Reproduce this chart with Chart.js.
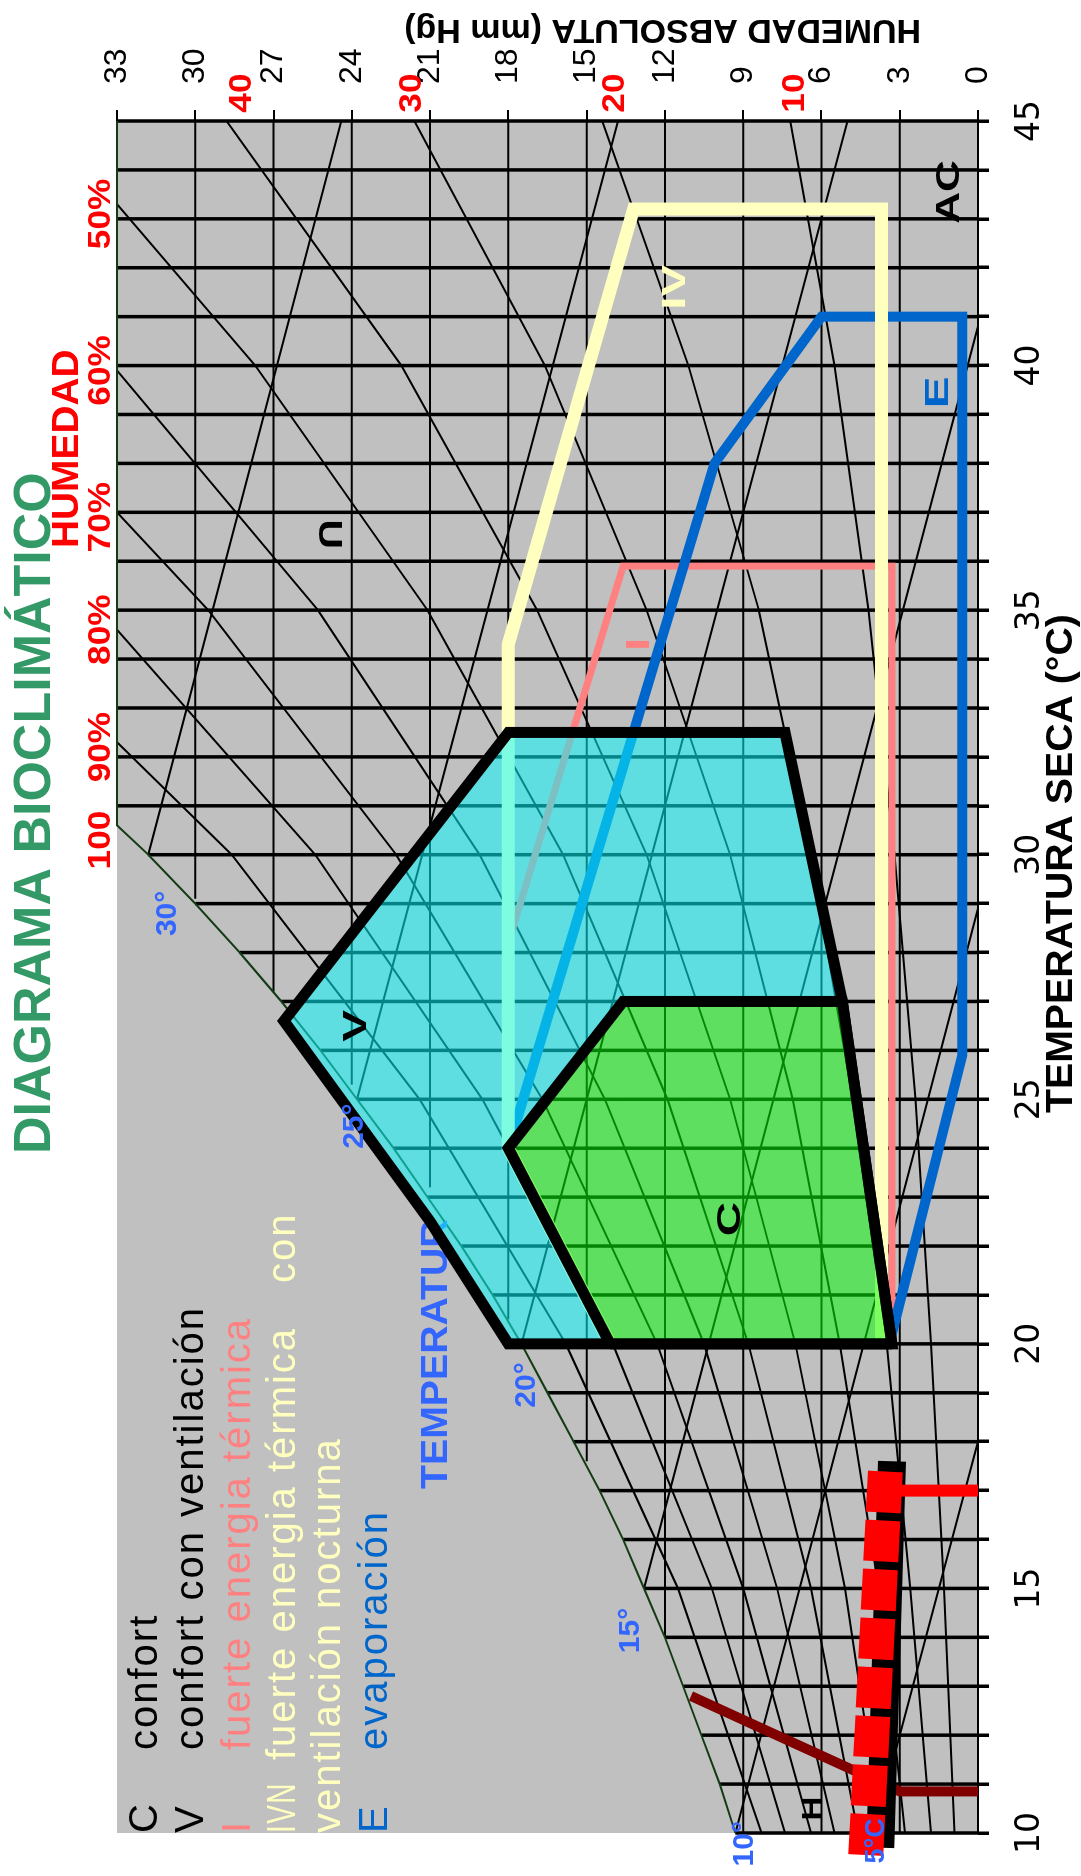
<!DOCTYPE html>
<html lang="es">
<head>
<meta charset="utf-8">
<title>Diagrama bioclimático</title>
<script src="https://cdn.jsdelivr.net/npm/chart.js@4.4.1/dist/chart.umd.min.js"></script>
<style>
  html, body { margin: 0; padding: 0; background: #fff; width: 1081px; height: 1876px; overflow: hidden; }
  /* the chart is laid out in landscape and turned a quarter turn */
  #wrap { position: absolute; left: 0; top: 0; width: 1876px; height: 1081px;
          transform-origin: 0 0; transform: translateY(1876px) rotate(-90deg); }
  canvas { display: block; }
</style>
</head>
<body>
<div id="wrap"><canvas id="chart" width="1876" height="1081"></canvas></div>
<script>
// ---- axes -------------------------------------------------------------
const tempMin = 10, tempMax = 45, humMax = 33;
const tempGrid = [10,11,12,13,14,15,16,17,18,19,20,21,22,23,24,25,26,27,28,29,30,
                  31,32,33,34,35,36,37,38,39,40,41,42,43,44,45];
const tempLabels = [10,15,20,25,30,35,40,45];
const humGrid = [0,3,6,9,12,15,18,21,24,27,30,33];
// lowest temperature each humidity line reaches (where it meets saturation)
const humGridFrom = [10,10,10,10,14.0,17.6,20.5,23.2,25.3,27.2,29.1,30.6];

// ---- saturation curve (100 %) -----------------------------------------
const satT   = [10, 11, 12, 13, 14, 15, 16, 17, 18, 19, 20, 21, 22, 23, 24, 25, 26, 27, 28, 29, 30, 30.6, 45];
const satHum = [9.3,9.9,10.6,11.3,12.0,12.8,13.6,14.5,15.5,16.5,17.5,18.6,19.8,21.1,22.4,23.8,25.2,26.7,28.3,30.0,31.8,33, 33];

// ---- relative humidity lines [temp, hum] ------------------------------
const rh10 = [[10,0.9],[15,1.3],[20,1.8],[25,2.4],[30,3.2],[35,4.2],[40,5.5],[45,7.2]];
const rh20 = [[10,1.8],[15,2.6],[20,3.5],[25,4.8],[30,6.4],[35,8.4],[40,11.1],[45,14.4]];
const rh30 = [[10,2.8],[15,3.8],[20,5.3],[25,7.1],[30,9.5],[35,12.7],[40,16.6],[45,21.6]];
const rh40 = [[10,3.7],[15,5.1],[20,7.0],[25,9.5],[30,12.7],[35,16.9],[40,22.1],[45,28.8]];
const rh50 = [[10,4.6],[15,6.4],[20,8.8],[25,11.9],[30,15.9],[35,21.1],[40,27.7],[43.3,33]];
const rh60 = [[10,5.5],[15,7.7],[20,10.5],[25,14.3],[30,19.1],[35,25.3],[39.9,33]];
const rh70 = [[10,6.4],[15,9.0],[20,12.3],[25,16.7],[30,22.3],[35,29.5],[37.0,33]];
const rh80 = [[10,7.4],[15,10.2],[20,14.0],[25,19.0],[30,25.4],[34.6,33]];
const rh90 = [[10,8.3],[15,11.5],[20,15.8],[25,21.4],[30,28.6],[32.3,33]];
const rhLines = [rh10, rh20, rh30, rh40, rh50, rh60, rh70, rh80, rh90];

// ---- wet-bulb temperature lines ---------------------------------------
const wb5  = [[10,4.0],[18.0,0]];
const wb10 = [[10,9.3],[28.9,0]];
const wb15 = [[15,12.8],[40.8,0]];
const wb20 = [[20,17.5],[45,5.0]];
const wb25 = [[25,23.8],[45,13.8]];
const wb30 = [[30,31.8],[45,24.4]];
const wbLines = [wb5, wb10, wb15, wb20, wb25, wb30];

// ---- zones -------------------------------------------------------------
const zoneC   = [[20,14.1],[24,18],[27,13.6],[27,5.2],[20,3.3],[20,14.1]];
const zoneV   = [[20,3.3],[20,18],[22.5,21.0],[26.6,26.6],[32.5,18],[32.5,7.4],[27,5.2],[20,3.3]];
const zoneI   = [[20,3.3],[35.9,3.3],[35.9,13.6],[28.2,18],[24,18]];
const zoneIVN = [[20,3.7],[43.2,3.7],[43.2,13.2],[34.3,18],[24,18],[20,14.1]];
const zoneE   = [[24,18],[38.0,10.1],[41,6.0],[41,0.6],[25.9,0.6],[20,3.4]];

// ---- site lines ---------------------------------------------------------
const heatLine      = [[10.85,0],[10.85,3.0],[12.8,11.0]];
const climateLine   = [[9.55,4.3],[17.4,3.55]];
const climateShadow = [[9.7,3.75],[17.6,3.3]];
const climateTick   = [[17.0,3.2],[17.0,0]];

// ------------------------------------------------------------------------
const pts = a => a.map(p => ({ x: p[0], y: p[1] }));
function polyData(lines) {
  const out = [];
  for (const l of lines) {
    for (const [x, y] of l) out.push({ x, y });
    out.push({ x: l[l.length - 1][0], y: null });
  }
  return out;
}
const tLines = tempGrid.map(t => [[t, 0], [t, t <= 30 ? satHum[satT.indexOf(t)] : humMax]]);
const hLines = humGrid.map((h, i) => [[humGridFrom[i], h], [tempMax, h]]);
// V region without the C region, for its translucent fill
const vFill = [...zoneV.slice(1, 7), ...zoneC.slice(0, 3).reverse(), zoneV[1]];

const SANS = "'Liberation Sans', Arial, sans-serif";
Chart.defaults.font.family = SANS;

function txt(ctx, s, x, y, o) {
  ctx.save();
  ctx.translate(x, y);
  if (o.rot) ctx.rotate(o.rot);
  if (o.sx) ctx.scale(o.sx, 1);
  ctx.font = o.font;
  ctx.fillStyle = o.color || '#000';
  ctx.textAlign = o.align || 'left';
  ctx.textBaseline = o.base || 'alphabetic';
  ctx.letterSpacing = o.ls || '0px';
  ctx.fillText(s, 0, 0);
  ctx.restore();
}

const decor = {
  id: 'decor',
  beforeDatasetsDraw(chart) {
    const { ctx, chartArea: a } = chart;
    ctx.save();
    ctx.fillStyle = '#c0c0c0';
    ctx.fillRect(a.left, a.top, a.right - a.left, a.bottom - a.top);
    ctx.restore();
  },
  afterDatasetDraw(chart, args) {
    if (chart.data.datasets[args.index].label !== 'underlay') return;
    const { ctx } = chart;
    txt(ctx, 'TEMPERATUR', 387, 447, { font: 'bold 36px ' + SANS, color: '#3366ff', sx: 1.09 });
  },
  afterDraw(chart) {
    const { ctx } = chart;
    const X = v => chart.scales.x.getPixelForValue(v);
    const Y = v => chart.scales.y.getPixelForValue(v);

    // titles
    txt(ctx, 'DIAGRAMA BIOCLIMÁTICO', 722, 50, { font: 'bold 52px ' + SANS, color: '#339966' });
    txt(ctx, 'HUMEDAD', 1328, 78, { font: 'bold 37px ' + SANS, color: '#ff0000', sx: 1.05 });
    txt(ctx, 'TEMPERATURA SECA (°C)', 763, 1072, { font: 'bold 36px ' + SANS, color: '#000', sx: 1.09 });
    txt(ctx, 'HUMEDAD ABSOLUTA (mm Hg)', 1856, 921, { font: 'bold 34px ' + SANS, color: '#000', rot: -Math.PI / 2 });

    // key: [letter, text, colour, baseline, text start, letter width factor]
    const key = [
      ['C', 'confort', '#000000', 157, 126, 1],
      ['V', 'confort con ventilación', '#000000', 203, 126, 1],
      ['I', 'fuerte energia térmica', '#ff8080', 250, 126, 1],
      ['IVN', 'fuerte energia térmica', '#ffffc0', 295, 116, 0.7],
      ['', 'ventilación nocturna', '#ffffc0', 340, 43, 1],
      ['E', 'evaporación', '#0066cc', 387, 126, 1]
    ];
    for (const [k, d, c, y, dx, kx] of key) {
      const f = { font: '40px ' + SANS, color: c, ls: '2px' };
      if (k) txt(ctx, k, 43, y, Object.assign({}, f, { sx: kx }));
      txt(ctx, d, dx, y, f);
    }
    txt(ctx, 'con', 593, 295, { font: '40px ' + SANS, color: '#ffffc0', ls: '2px' });

    // relative humidity labels
    const red = { font: 'bold 32px ' + SANS, color: '#ff0000', align: 'center', base: 'middle', sx: 1.1 };
    [['100', 30.3], ['90%', 32.2], ['80%', 34.6], ['70%', 36.9], ['60%', 39.9], ['50%', 43.1]]
      .forEach(([s, t]) => txt(ctx, s, X(t), Y(33.6), red));
    [['10', 7.0], ['20', 13.9], ['30', 21.7], ['40', 28.2]]
      .forEach(([s, h]) => txt(ctx, s, X(45.57), Y(h), red));

    // wet-bulb labels
    const blue = { font: 'bold 30px ' + SANS, color: '#3366ff', align: 'center', base: 'middle' };
    [['10°', 9.78, 8.93], ['15°', 14.14, 13.3], ['20°', 19.16, 17.3], ['25°', 24.45, 23.87], ['30°', 28.8, 31.07]]
      .forEach(([s, t, h]) => txt(ctx, s, X(t), Y(h), blue));
    txt(ctx, '5°C', X(9.84), Y(3.9), Object.assign({}, blue, { font: 'bold 27px ' + SANS }));

    // zone letters
    const z = (s, t, h, c, extra) => txt(ctx, s, X(t), Y(h),
      Object.assign({ font: 'bold 34px ' + SANS, color: c, align: 'center', base: 'middle', sx: 1.4 }, extra || {}));
    z('C', 22.55, 9.5, '#000');
    z('V', 26.5, 23.8, '#000');
    z('I', 34.3, 12.95, '#ff8080');
    z('IV', 41.6, 11.6, '#ffffc0');
    z('E', 39.45, 1.5, '#0066cc');
    z('AC', 43.55, 1.07, '#000', { sx: 1.3 });
    z('U', 36.55, 24.9, '#000', { rot: Math.PI, sx: 1.2 });
    z('H', 10.5, 6.3, '#000', { font: 'bold 30px ' + SANS, sx: 1.1 });
  }
};

const line = (label, data, color, width, order, extra) =>
  Object.assign({ label, data, borderColor: color, borderWidth: width, order }, extra || {});

new Chart(document.getElementById('chart'), {
  type: 'line',
  data: {
    datasets: [
      line('gridT', polyData(tLines), '#000', 3.5, 100, { clip: 3 }),
      line('gridH', polyData(hLines), '#000', 2, 100, { clip: 3 }),
      line('rh', polyData(rhLines), '#000', 2, 95),
      line('wb', polyData(wbLines), '#000', 2, 95),
      line('sat', pts(satT.map((t, i) => [t, satHum[i]])), '#143c14', 2, 90, { clip: 3 }),
      line('I', pts(zoneI), '#ff8080', 7, 60),
      line('E', pts(zoneE), '#0066cc', 10, 58),
      line('IVN', pts(zoneIVN), '#ffffc0', 13, 55),
      line('heat', pts(heatLine), '#800000', 10, 50),
      line('climateShadow', pts(climateShadow), '#000', 28, 46, { clip: false }),
      line('climateTick', pts(climateTick), '#ff0000', 12, 45),
      line('climate', pts(climateLine), '#ff0000', 35, 44, { clip: false, borderDash: [41, 8] }),
      line('underlay', [], '#000', 1, 35),
      line('Vfill', pts(vFill), 'rgba(0,0,0,0)', 1, 30, { fill: 'shape', backgroundColor: 'rgba(10,250,255,0.53)' }),
      line('V', pts(zoneV), '#000', 11, 25),
      line('C', pts(zoneC), '#000', 11, 20, { fill: 'shape', backgroundColor: 'rgba(10,252,10,0.53)' })
    ]
  },
  options: {
    responsive: false,
    animation: false,
    events: [],
    devicePixelRatio: 1,
    layout: { padding: { left: 40, top: 117, right: 0, bottom: 0 } },
    elements: {
      point: { radius: 0, hoverRadius: 0 },
      line: { tension: 0, fill: false, borderJoinStyle: 'miter', borderCapStyle: 'butt' }
    },
    plugins: { legend: { display: false }, tooltip: { enabled: false } },
    scales: {
      x: {
        type: 'linear', position: 'bottom', min: tempMin, max: tempMax,
        afterFit: s => { s.height = 103; },
        border: { display: false },
        grid: { drawOnChartArea: false, drawTicks: true, tickLength: 11, lineWidth: 3.5, color: '#000' },
        ticks: {
          stepSize: 1, autoSkip: false, maxRotation: 0, minRotation: 0, padding: 22, color: '#000',
          font: { family: "'DejaVu Sans', sans-serif", size: 33 },
          callback: v => tempLabels.includes(v) ? String(v) : ''
        }
      },
      y: {
        type: 'linear', position: 'right', min: 0, max: humMax,
        afterFit: s => { s.width = 121; },
        border: { display: false },
        grid: { drawOnChartArea: false, drawTicks: true, tickLength: 11, lineWidth: 2, color: '#000' },
        ticks: {
          stepSize: 3, autoSkip: false, padding: 26, color: '#000',
          font: { family: SANS, size: 32 },
          callback: v => humGrid.includes(v) ? String(v) : ''
        }
      }
    }
  },
  plugins: [decor]
});
</script>
</body>
</html>
